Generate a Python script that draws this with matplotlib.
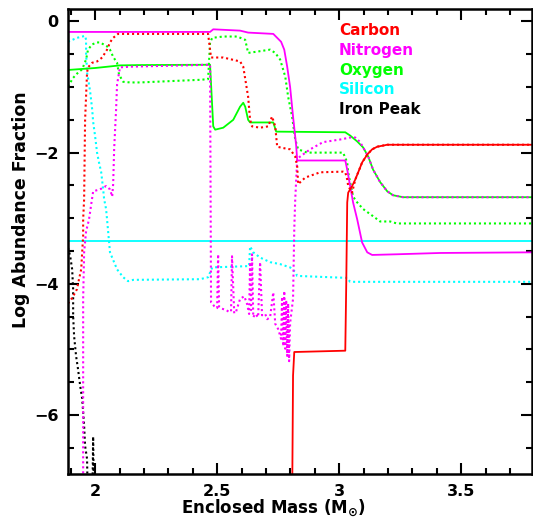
import matplotlib
matplotlib.use("Agg")
import matplotlib.pyplot as plt
from matplotlib.ticker import MultipleLocator

plt.rcParams['font.family'] = ['DejaVu Sans']
plt.rcParams['font.weight'] = 'bold'
plt.rcParams['mathtext.default'] = 'bf'

RED, MAG, GRN, CYA, BLK = '#ff0000', '#ff00ff', '#00ff00', '#00ffff', '#000000'

# ---- Carbon ----
carbon_x = [2.807, 2.811, 2.816, 3.025, 3.029, 3.033, 3.037, 3.053, 3.066, 3.078,
            3.094, 3.115, 3.135, 3.156, 3.197, 3.414, 3.8]
carbon_y = [-7.5, -5.40, -5.04, -5.02, -4.00, -2.76, -2.61, -2.51, -2.41, -2.30,
            -2.15, -2.03, -1.95, -1.91, -1.88, -1.88, -1.88]
carbon_dot_x = [1.889, 1.898, 1.910, 1.926, 1.934, 1.943, 1.947, 1.951, 1.951, 1.955,
                1.959, 1.967, 1.971, 1.988, 2.008, 2.029, 2.049, 2.061, 2.074, 2.094,
                2.463, 2.475, 2.525, 2.594, 2.607, 2.627, 2.635, 2.643, 2.676, 2.709,
                2.725, 2.738, 2.746, 2.770, 2.799, 2.820, 2.828, 2.832, 2.861, 2.922,
                3.016, 3.025, 3.033, 3.037, 3.045, 3.053, 3.066, 3.078, 3.094, 3.115,
                3.135, 3.156, 3.197, 3.414, 3.8]
carbon_dot_y = [-4.30, -4.26, -4.19, -4.08, -3.93, -3.78, -3.52, -3.27, -3.02, -2.71,
                -1.50, -0.78, -0.70, -0.63, -0.61, -0.55, -0.43, -0.32, -0.25, -0.19,
                -0.19, -0.55, -0.55, -0.61, -0.69, -1.15, -1.50, -1.60, -1.62, -1.60,
                -1.45, -1.60, -1.91, -1.93, -1.95, -2.06, -2.21, -2.48, -2.38, -2.30,
                -2.29, -2.30, -2.41, -2.51, -2.56, -2.61, -2.41, -2.30, -2.15, -2.03,
                -1.95, -1.91, -1.88, -1.88, -1.88]

# ---- Nitrogen ----
nitrogen_x = [1.889, 2.471, 2.484, 2.594, 2.627, 2.730, 2.746, 2.762, 2.775, 2.787,
              2.799, 2.811, 2.824, 2.828, 3.025, 3.033, 3.045, 3.057, 3.074, 3.094,
              3.115, 3.135, 3.236, 3.414, 3.8]
nitrogen_y = [-0.16, -0.16, -0.12, -0.14, -0.17, -0.19, -0.25, -0.31, -0.43, -0.69,
              -1.00, -1.45, -1.90, -2.12, -2.12, -2.26, -2.51, -2.76, -3.02, -3.37,
              -3.52, -3.56, -3.55, -3.53, -3.52]
nitrogen_dot_x = [1.951, 1.951, 1.955, 1.963, 1.975, 1.984, 1.992, 2.020, 2.045, 2.061,
                  2.070, 2.074, 2.078, 2.086, 2.090, 2.102, 2.143, 2.471,
                  2.475, 2.488, 2.500, 2.504, 2.508, 2.520, 2.537, 2.549, 2.557, 2.561,
                  2.570, 2.578, 2.594, 2.611, 2.623, 2.631, 2.635, 2.639, 2.643, 2.648,
                  2.656, 2.668, 2.676, 2.684, 2.697, 2.705, 2.717, 2.730, 2.738, 2.750,
                  2.762, 2.766, 2.771, 2.775, 2.779, 2.783, 2.787, 2.791, 2.795, 2.799,
                  2.811, 2.816, 2.820, 2.828, 2.840, 2.881, 2.934, 3.004, 3.045, 3.066,
                  3.086, 3.098, 3.119, 3.139, 3.168, 3.197, 3.221, 3.262, 3.8]
nitrogen_dot_y = [-7.5, -4.23, -3.52, -3.20, -3.02, -2.79, -2.59, -2.56, -2.51, -2.56,
                  -2.67, -2.48, -1.95, -1.34, -0.96, -0.70, -0.69, -0.66,
                  -4.28, -4.34, -4.37, -3.55, -4.35, -4.38, -4.40, -4.43, -4.42, -3.58,
                  -4.45, -4.42, -4.23, -4.19, -4.31, -4.46, -3.67, -4.40, -3.55, -4.51,
                  -4.46, -4.51, -3.67, -4.48, -4.46, -4.54, -4.51, -4.13, -4.61, -4.69,
                  -4.84, -4.20, -4.95, -4.11, -4.99, -4.25, -5.10, -4.30, -5.18, -4.60,
                  -4.23, -3.17, -2.71, -2.10, -2.06, -1.95, -1.84, -1.80, -1.77, -1.77,
                  -1.84, -1.92, -2.06, -2.26, -2.45, -2.59, -2.65, -2.68, -2.68]

# ---- Oxygen ----
oxygen_x = [1.889, 2.000, 2.102, 2.184, 2.471, 2.484, 2.492, 2.525, 2.566, 2.594,
            2.607, 2.615, 2.627, 2.635, 2.730, 2.742, 3.025, 3.045, 3.074, 3.098,
            3.119, 3.139, 3.168, 3.197, 3.221, 3.262, 3.414, 3.8]
oxygen_y = [-0.74, -0.71, -0.67, -0.665, -0.66, -1.60, -1.65, -1.62, -1.50, -1.30,
            -1.24, -1.30, -1.50, -1.54, -1.54, -1.68, -1.69, -1.74, -1.83, -1.92,
            -2.06, -2.26, -2.45, -2.59, -2.65, -2.68, -2.68, -2.68]
oxygen_dot_x = [1.889, 1.910, 1.930, 1.947, 1.963, 1.971, 1.988, 2.008, 2.020, 2.049,
                2.061, 2.074, 2.090, 2.098, 2.115, 2.143, 2.184, 2.430, 2.463, 2.471,
                2.480, 2.525, 2.582, 2.615, 2.627, 2.664, 2.717, 2.738, 2.758, 2.779,
                2.791, 2.807, 2.820, 2.832, 2.869, 2.910, 3.016, 3.033, 3.037, 3.045,
                3.057, 3.074, 3.098, 3.139, 3.168, 3.209, 3.236, 3.414, 3.8]
oxygen_dot_y = [-0.99, -0.86, -0.78, -0.73, -0.58, -0.43, -0.35, -0.32, -0.32, -0.38,
                -0.43, -0.54, -0.63, -0.81, -0.92, -0.93, -0.93, -0.89, -0.88, -0.32,
                -0.25, -0.23, -0.23, -0.28, -0.48, -0.46, -0.43, -0.48, -0.58, -0.84,
                -1.15, -1.45, -1.80, -1.95, -2.00, -2.00, -2.00, -2.15, -2.30, -2.45,
                -2.67, -2.76, -2.86, -2.97, -3.05, -3.05, -3.08, -3.08, -3.08]

# ---- Silicon ----
silicon_x = [1.889, 3.8]
silicon_y = [-3.35, -3.35]
silicon_dot_x = [1.889, 1.926, 1.959, 1.963, 1.963, 1.967, 1.971, 1.980, 1.988, 1.992,
                 2.000, 2.008, 2.016, 2.025, 2.033, 2.037, 2.045, 2.049, 2.061, 2.090,
                 2.115, 2.135, 2.156, 2.430, 2.463, 2.480, 2.631, 2.635, 2.648, 2.676,
                 2.717, 2.758, 2.799, 2.820, 2.828, 3.033, 3.045, 3.8]
silicon_dot_y = [-0.31, -0.25, -0.22, -0.28, -0.48, -0.78, -0.86, -1.08, -1.34, -1.53,
                 -1.75, -2.00, -2.15, -2.30, -2.56, -2.71, -2.86, -3.02, -3.52, -3.78,
                 -3.90, -3.96, -3.94, -3.93, -3.90, -3.75, -3.73, -3.43, -3.52, -3.60,
                 -3.67, -3.70, -3.75, -3.82, -3.88, -3.91, -3.97, -3.97]

# ---- Iron peak ----
iron_dot_x = [1.889, 1.898, 1.906, 1.910, 1.910, 1.914, 1.922, 1.930, 1.939, 1.947,
              1.955, 1.959, 1.967, 1.971, 1.980, 1.988, 1.992, 1.996]
iron_dot_y = [-3.45, -3.58, -3.78, -4.08, -4.49, -4.80, -5.10, -5.30, -5.56, -5.75,
              -6.16, -6.47, -6.67, -7.5, -7.5, -7.5, -6.33, -7.5]

# ---- axis ticks ----
x_major = [2, 2.5, 3, 3.5]
x_tick_labels = ['2', '2.5', '3', '3.5']
y_major = [0, -2, -4, -6]
y_tick_labels = ['0', '\u22122', '\u22124', '\u22126']

legend_names = ['Carbon', 'Nitrogen', 'Oxygen', 'Silicon', 'Iron Peak']
legend_colors = [RED, MAG, GRN, CYA, BLK]

fig = plt.figure(figsize=(5.33, 5.19), dpi=100)
ax = fig.add_axes([0.1276, 0.0867, 0.8705, 0.896])

DOT = (0, (1, 1.4))
LW = 1.3
ax.plot(silicon_x, silicon_y, color=CYA, lw=LW)
ax.plot(silicon_dot_x, silicon_dot_y, color=CYA, lw=LW + 0.2, ls=DOT)
ax.plot(iron_dot_x, iron_dot_y, color=BLK, lw=LW + 0.2, ls=DOT)
ax.plot(oxygen_x, oxygen_y, color=GRN, lw=LW)
ax.plot(oxygen_dot_x, oxygen_dot_y, color=GRN, lw=LW + 0.2, ls=DOT)
ax.plot(nitrogen_x, nitrogen_y, color=MAG, lw=LW)
ax.plot(nitrogen_dot_x, nitrogen_dot_y, color=MAG, lw=LW + 0.2, ls=DOT)
ax.plot(carbon_dot_x, carbon_dot_y, color=RED, lw=LW + 0.2, ls=DOT)
ax.plot(carbon_x, carbon_y, color=RED, lw=LW)

ax.set_xlim(1.889, 3.79)
ax.set_ylim(-6.9, 0.19)

ax.set_xticks(x_major)
ax.set_xticklabels(x_tick_labels)
ax.set_yticks(y_major)
ax.set_yticklabels(y_tick_labels)
ax.xaxis.set_minor_locator(MultipleLocator(0.1))
ax.yaxis.set_minor_locator(MultipleLocator(0.5))
ax.tick_params(which='both', direction='in', top=True, right=True, width=1.5,
               labelsize=11.5, pad=7)
ax.tick_params(which='major', length=8)
ax.tick_params(which='minor', length=4.5)
for lab in ax.get_xticklabels() + ax.get_yticklabels():
    lab.set_fontweight('bold')
for sp in ax.spines.values():
    sp.set_linewidth(1.8)

ax.set_xlabel(r'Enclosed Mass (M$_{\odot}$)', fontsize=12, fontweight='bold')
ax.set_ylabel('Log Abundance Fraction', fontsize=12.5, fontweight='bold')
ax.xaxis.set_label_coords(0.442, -0.05)
ax.yaxis.set_label_coords(-0.082, 0.568)

for i, (name, col) in enumerate(zip(legend_names, legend_colors)):
    ax.text(0.584, 0.953 - i * 0.0424, name, color=col, fontsize=11,
            fontweight='bold', transform=ax.transAxes, va='center', ha='left')

fig.savefig('out.png', dpi=100)
